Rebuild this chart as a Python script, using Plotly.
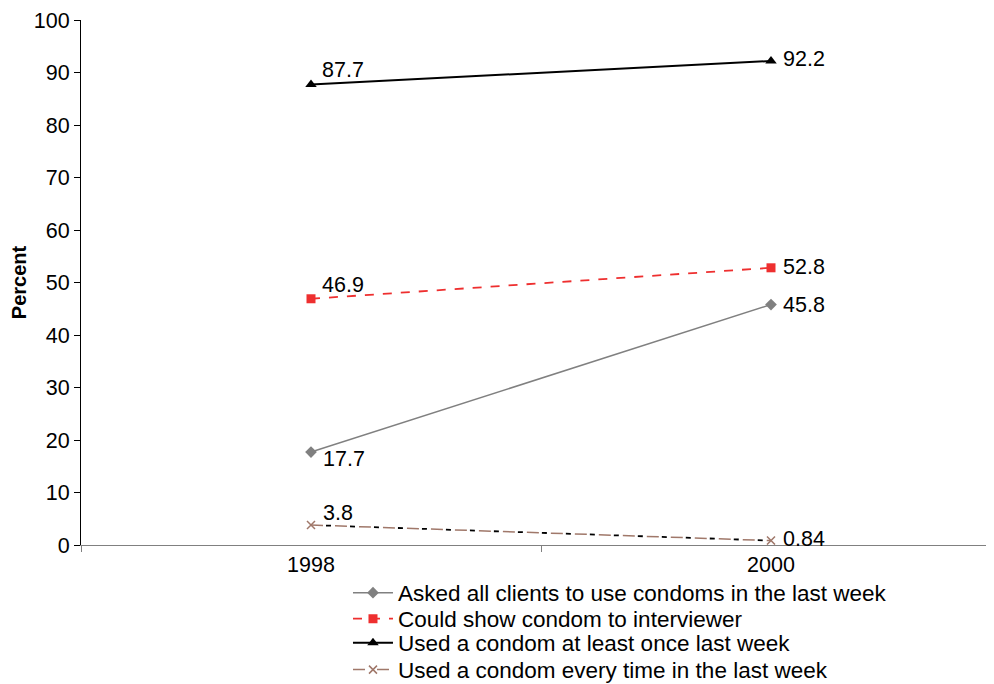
import plotly.graph_objects as go

years = ["1998", "2000"]
asked_all = [17.7, 45.8]
could_show = [46.9, 52.8]
used_once = [87.7, 92.2]
used_every = [3.8, 0.84]
labels_asked = ["17.7", "45.8"]
labels_show = ["46.9", "52.8"]
labels_once = ["87.7", "92.2"]
labels_every = ["3.8", "0.84"]
y_ticks = [0, 10, 20, 30, 40, 50, 60, 70, 80, 90, 100]

FONT = "Liberation Sans, Arial, sans-serif"
fig = go.Figure()

fig.add_trace(go.Scatter(
    x=years, y=asked_all, mode="lines+markers",
    name="Asked all clients to use condoms in the last week",
    line=dict(color="#808080", width=1.5),
    marker=dict(symbol="diamond", size=9, color="#808080"),
    legend="legend",
))
fig.add_trace(go.Scatter(
    x=years, y=could_show, mode="lines+markers",
    name="Could show condom to interviewer",
    line=dict(color="#ee2f2f", width=1.8, dash="dash"),
    marker=dict(symbol="square", size=9, color="#ee2f2f"),
    legend="legend2",
))
fig.add_trace(go.Scatter(
    x=years, y=used_once, mode="lines+markers",
    name="Used a condom at least once last week",
    line=dict(color="black", width=2),
    marker=dict(symbol="triangle-up", size=10, color="black"),
    legend="legend3",
))
fig.add_trace(go.Scatter(
    x=years, y=used_every, mode="lines",
    showlegend=False, hoverinfo="skip",
    line=dict(color="black", width=1.8, dash="0px,15px,5px,4px"),
))
fig.add_trace(go.Scatter(
    x=years, y=used_every, mode="lines+markers",
    name="Used a condom every time in the last week",
    line=dict(color="#a0786a", width=1.5, dash="12px,12px"),
    marker=dict(symbol="x-thin", size=8, color="#a0786a",
                line=dict(color="#a0786a", width=1.5)),
    legend="legend4",
))

# data labels, placed from the data values via the axes (category index)
series_labels = [
    (asked_all, labels_asked, [(10, -7), (10, 0)]),
    (could_show, labels_show, [(9, 14), (10, 1)]),
    (used_once, labels_once, [(9, 15), (10, 2)]),
    (used_every, labels_every, [(10, 12), (10, 2)]),
]
for vals, labs, shifts in series_labels:
    for i, (yv, lab, (dx, dy)) in enumerate(zip(vals, labs, shifts)):
        fig.add_annotation(
            x=i, y=yv, xref="x", yref="y", text=lab, showarrow=False,
            xanchor="left", yanchor="middle", xshift=dx, yshift=dy,
            font=dict(size=21.5, color="black", family=FONT),
        )

leg_common = dict(x=0.2902, xanchor="left", yanchor="middle", yref="container",
                  font=dict(size=22.5, family=FONT, color="black"),
                  bgcolor="rgba(0,0,0,0)", itemwidth=40)
fig.update_layout(
    width=994, height=684,
    margin=dict(l=73, r=1, t=12, b=147, autoexpand=False),
    plot_bgcolor="white", paper_bgcolor="white",
    font=dict(family=FONT, size=21.5, color="black"),
    showlegend=True,
    legend=dict(y=0.1447, **leg_common),
    legend2=dict(y=0.1067, **leg_common),
    legend3=dict(y=0.0716, **leg_common),
    legend4=dict(y=0.0322, **leg_common),
)
fig.update_xaxes(
    type="category", tickson="boundaries", ticks="outside", ticklen=6,
    tickcolor="#808080", showline=True, linecolor="#808080", linewidth=1,
    showgrid=False, range=[-0.5, 1.5], tickfont=dict(size=21.5),
    automargin=False,
)
fig.update_yaxes(
    range=[0, 100], tickvals=y_ticks, ticks="outside", ticklen=6,
    tickcolor="black", showline=True, linecolor="black", linewidth=1,
    showgrid=False, zeroline=False, tickfont=dict(size=21.5),
    title=dict(text="<b>Percent</b>", font=dict(size=20), standoff=2),
    automargin=False,
)

fig.write_html("out.html")
